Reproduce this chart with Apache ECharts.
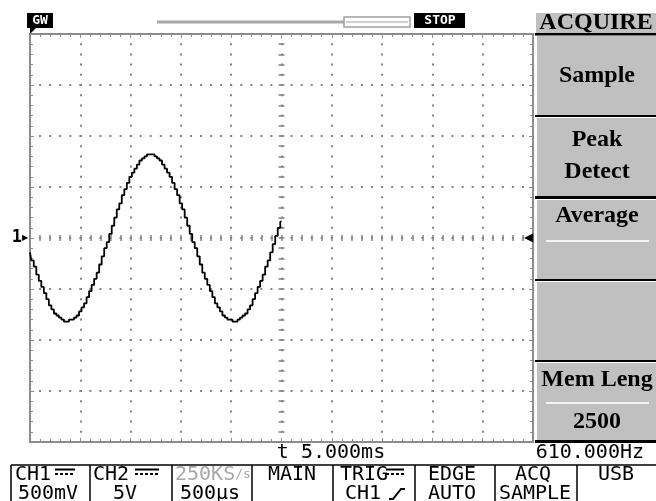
<!DOCTYPE html>
<html><head><meta charset="utf-8">
<script src="https://cdn.jsdelivr.net/npm/echarts@6/dist/echarts.min.js"></script>
<style>html,body{margin:0;padding:0;background:#fff}#c{width:656px;height:501px}</style>
</head><body><div id="c"></div><script>
// time position in divisions (screen centre = 0), 0.05 div per sample
const timeDiv = [-5.00,-4.95,-4.90,-4.85,-4.80,-4.75,-4.70,-4.65,-4.60,-4.55,-4.50,-4.45,-4.40,-4.35,-4.30,-4.25,-4.20,-4.15,-4.10,-4.05,
  -4.00,-3.95,-3.90,-3.85,-3.80,-3.75,-3.70,-3.65,-3.60,-3.55,-3.50,-3.45,-3.40,-3.35,-3.30,-3.25,-3.20,-3.15,-3.10,-3.05,
  -3.00,-2.95,-2.90,-2.85,-2.80,-2.75,-2.70,-2.65,-2.60,-2.55,-2.50,-2.45,-2.40,-2.35,-2.30,-2.25,-2.20,-2.15,-2.10,-2.05,
  -2.00,-1.95,-1.90,-1.85,-1.80,-1.75,-1.70,-1.65,-1.60,-1.55,-1.50,-1.45,-1.40,-1.35,-1.30,-1.25,-1.20,-1.15,-1.10,-1.05,
  -1.00,-0.95,-0.90,-0.85,-0.80,-0.75,-0.70,-0.65,-0.60,-0.55,-0.50,-0.45,-0.40,-0.35,-0.30,-0.25,-0.20,-0.15,-0.10,-0.05,0.00];
// CH1 level in divisions (500 mV/div)
const ch1Div = [-0.28,-0.44,-0.56,-0.72,-0.84,-0.96,-1.08,-1.20,-1.32,-1.40,-1.48,-1.52,-1.56,-1.60,-1.64,-1.64,-1.60,-1.60,-1.56,-1.52,
  -1.44,-1.36,-1.28,-1.16,-1.04,-0.92,-0.80,-0.68,-0.52,-0.36,-0.20,-0.08,0.08,0.24,0.40,0.56,0.68,0.84,0.96,1.08,
  1.20,1.28,1.36,1.44,1.52,1.56,1.60,1.64,1.64,1.64,1.60,1.56,1.52,1.44,1.36,1.28,1.20,1.08,0.96,0.84,
  0.68,0.56,0.40,0.24,0.08,-0.08,-0.20,-0.36,-0.52,-0.68,-0.80,-0.92,-1.04,-1.16,-1.28,-1.36,-1.44,-1.52,-1.56,-1.60,
  -1.60,-1.64,-1.64,-1.60,-1.56,-1.52,-1.48,-1.40,-1.32,-1.20,-1.08,-0.96,-0.84,-0.72,-0.56,-0.44,-0.28,-0.12,0.04,0.20,0.32];
const menuTitle = 'ACQUIRE';
const menuLabels = [['Sample'], ['Peak', 'Detect'], ['Average'], [], ['Mem Leng', '2500']];
const statusTop = ['CH1', 'CH2', '250KS', 'MAIN', 'TRIG', 'EDGE', 'ACQ', 'USB'];
const statusBottom = ['500mV', '5V', '500μs', '', 'CH1', 'AUTO', 'SAMPLE', ''];
const triggerTime = 't 5.000ms';
const frequency = '610.000Hz';

const GRAY = '#8c8c8c';
const PANEL = '#c0c0c0';
const MONO = '"DejaVu Sans Mono", monospace';
const SERIF = '"Liberation Serif", "DejaVu Serif", serif';

const chart = echarts.init(document.getElementById('c'), null, {renderer: 'canvas'});

function borderAxis(pos, isX, split) {
  return {
    type: 'value', min: isX ? -5 : -4, max: isX ? 5 : 4, interval: 1,
    position: pos,
    axisLine: {show: true, onZero: false, lineStyle: {color: GRAY, width: 2}},
    axisTick: {show: true, inside: true, length: 4, lineStyle: {color: GRAY, width: 1}},
    minorTick: {show: true, splitNumber: 5, length: 3, lineStyle: {color: GRAY, width: 1}},
    splitLine: {show: split, lineStyle: {color: '#858585', width: 2, type: isX ? [2, 8.2] : [2, 8.06], dashOffset: 1}},
    axisLabel: {show: false}
  };
}
function centreAxis(pos, isX, inside) {
  return {
    type: 'value', min: isX ? -5 : -4, max: isX ? 5 : 4, interval: 1,
    position: pos,
    axisLine: {show: false, onZero: true},
    axisTick: {show: true, inside: inside, length: 3, lineStyle: {color: '#858585', width: 1.5}},
    minorTick: {show: true, splitNumber: 5, length: 3, lineStyle: {color: '#858585', width: 1.5}},
    splitLine: {show: false},
    axisLabel: {show: false}
  };
}

const xAxes = [borderAxis('bottom', true, true), borderAxis('top', true, false), centreAxis('bottom', true, true), centreAxis('bottom', true, false)];
const yLeft = borderAxis('left', false, true);
yLeft.axisLabel = {show: true, margin: 2, formatter: v => v === 0 ? '{a|1}{b|▶}' : '',
  rich: {a: {fontFamily: MONO, fontSize: 17, fontWeight: 'bold', color: '#000'}, b: {fontSize: 8, color: '#000'}}};
const yRight = borderAxis('right', false, false);
yRight.axisLabel = {show: true, inside: true, margin: 0, formatter: v => v === 0 ? '◀' : '', fontSize: 12, color: '#000'};
const yAxes = [yLeft, yRight, centreAxis('left', false, true), centreAxis('left', false, false)];

const graphics = [];
// top bar
graphics.push({type: 'rect', shape: {x: 27, y: 13, width: 26, height: 15}, style: {fill: '#000'}});
graphics.push({type: 'text', x: 40, y: 21, style: {text: 'GW', fill: '#fff', font: 'bold 13px ' + MONO, textAlign: 'center', textVerticalAlign: 'middle'}});
graphics.push({type: 'polygon', shape: {points: [[30, 28], [36, 28], [30, 34]]}, style: {fill: '#000'}});
graphics.push({type: 'line', shape: {x1: 157, y1: 22, x2: 345, y2: 22}, style: {stroke: '#a8a8a8', lineWidth: 3}});
graphics.push({type: 'rect', shape: {x: 344, y: 17, width: 66, height: 10}, style: {fill: '#fff', stroke: '#a0a0a0', lineWidth: 1.5}});
graphics.push({type: 'line', shape: {x1: 346, y1: 22, x2: 408, y2: 22}, style: {stroke: '#d0d0d0', lineWidth: 2}});
graphics.push({type: 'rect', shape: {x: 414, y: 13, width: 51, height: 15}, style: {fill: '#000'}});
graphics.push({type: 'text', x: 440, y: 21, style: {text: 'STOP', fill: '#fff', font: 'bold 13px ' + MONO, textAlign: 'center', textVerticalAlign: 'middle'}});

// right menu panel
graphics.push({type: 'rect', shape: {x: 535, y: 13, width: 121, height: 21}, style: {fill: PANEL}});
graphics.push({type: 'line', shape: {x1: 535.5, y1: 13, x2: 535.5, y2: 443}, style: {stroke: '#fff', lineWidth: 1}});
graphics.push({type: 'text', x: 596, y: 23, style: {text: menuTitle, fill: '#000', font: 'bold 24px ' + SERIF, textAlign: 'center', textVerticalAlign: 'middle'}});
const boxes = [[35, 115], [117, 196], [199, 279], [281, 360], [362, 441]];
graphics.push({type: 'rect', shape: {x: 535, y: 33, width: 121, height: 2.5}, style: {fill: '#000'}});
const labelY = [[76], [140, 172], [216], [], [380, 422]];
boxes.forEach((b, i) => {
  graphics.push({type: 'rect', shape: {x: 537, y: b[0] + 1, width: 119, height: b[1] - b[0] - 1}, style: {fill: PANEL}});
  graphics.push({type: 'rect', shape: {x: 535, y: b[1], width: 121, height: i === 1 ? 3 : 2}, style: {fill: '#000'}});
  menuLabels[i].forEach((lab, j) => {
    graphics.push({type: 'text', x: 597, y: labelY[i][j], style: {text: lab, fill: '#000', font: 'bold 24px ' + SERIF, textAlign: 'center', textVerticalAlign: 'middle'}});
  });
});
[241, 403].forEach(y => {
  graphics.push({type: 'line', shape: {x1: 546, y1: y, x2: 649, y2: y}, style: {stroke: '#f4f4f4', lineWidth: 2}});
});
graphics.push({type: 'rect', shape: {x: 535, y: 440, width: 121, height: 3}, style: {fill: '#000'}});

// status line
graphics.push({type: 'text', x: 331, y: 453, style: {text: triggerTime, fill: '#000', font: '20px ' + MONO, textAlign: 'center', textVerticalAlign: 'middle'}});
graphics.push({type: 'text', x: 644, y: 453, style: {text: frequency, fill: '#000', font: '20px ' + MONO, textAlign: 'right', textVerticalAlign: 'middle'}});

// bottom status boxes
const edges = [11, 90, 172, 252, 333, 415, 495, 577];
graphics.push({type: 'line', shape: {x1: 11, y1: 465, x2: 656, y2: 465}, style: {stroke: '#000', lineWidth: 1.5}});
edges.forEach(x => graphics.push({type: 'line', shape: {x1: x, y1: 465, x2: x, y2: 501}, style: {stroke: '#000', lineWidth: 1.5}}));
const topX = [15, 93, 175, 292, 340, 452, 533, 616];
const topAlign = ['left', 'left', 'left', 'center', 'left', 'center', 'center', 'center'];
const botX = [48, 125, 210, 0, 345, 452, 535, 0];
const botAlign = ['center', 'center', 'center', 'center', 'left', 'center', 'center', 'center'];
statusTop.forEach((t, i) => {
  if (i === 2) {
    graphics.push({type: 'text', x: topX[i], y: 475, style: {text: '{a|' + t + '}{b|/s}', rich: {a: {font: '20px ' + MONO, fill: '#a8a8a8'}, b: {font: '13px ' + MONO, fill: '#a8a8a8'}}, textAlign: 'left', textVerticalAlign: 'middle'}});
  } else {
    graphics.push({type: 'text', x: topX[i], y: 475, style: {text: t, fill: '#000', font: '20px ' + MONO, textAlign: topAlign[i], textVerticalAlign: 'middle'}});
  }
  if (statusBottom[i]) {
    graphics.push({type: 'text', x: botX[i], y: 494, style: {text: statusBottom[i], fill: '#000', font: '20px ' + MONO, textAlign: botAlign[i], textVerticalAlign: 'middle'}});
  }
});
// coupling symbols
[[55, 75], [135, 159], [386, 404]].forEach(s => {
  graphics.push({type: 'line', shape: {x1: s[0], y1: 469.5, x2: s[1], y2: 469.5}, style: {stroke: '#000', lineWidth: 2}});
  graphics.push({type: 'line', shape: {x1: s[0], y1: 474, x2: s[1], y2: 474}, style: {stroke: '#000', lineWidth: 2, lineDash: [3, 2]}});
});
// rising-edge symbol
graphics.push({type: 'polyline', shape: {points: [[389, 499], [393, 499], [401, 489], [405, 489]]}, style: {stroke: '#000', lineWidth: 2, fill: null}});

chart.setOption({
  animation: false,
  backgroundColor: '#fff',
  grid: {left: 30, top: 34, right: 123, bottom: 59, containLabel: false},
  xAxis: xAxes,
  yAxis: yAxes,
  series: [{
    type: 'line', xAxisIndex: 0, yAxisIndex: 0, step: 'middle', symbol: 'none',
    data: timeDiv.map((t, i) => [t, ch1Div[i]]),
    lineStyle: {color: '#000', width: 1.8}
  }],
  graphic: graphics
});
</script></body></html>
